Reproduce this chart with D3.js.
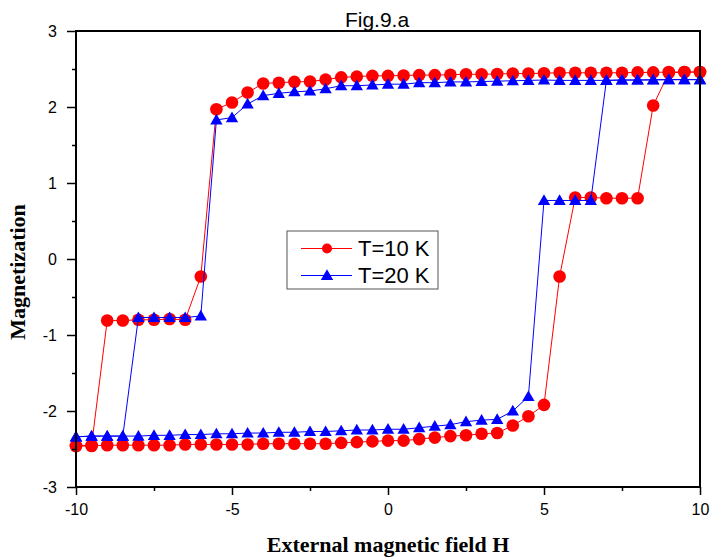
<!DOCTYPE html>
<html>
<head>
<meta charset="utf-8">
<script src="https://cdn.jsdelivr.net/npm/d3@7"></script>
<style>
  body { margin: 0; background: #fff; }
  text { font-family: "Liberation Sans", Arial, sans-serif; }
</style>
</head>
<body>
<div id="chart"></div>
<script>
const width = 713;
const height = 560;

// field values, branch going down then branch going up
const hDown = [10, 9.5, 9, 8.5, 8, 7.5, 7, 6.5, 6, 5.5, 5, 4.5, 4, 3.5, 3, 2.5, 2, 1.5, 1, 0.5, 0,
  -0.5, -1, -1.5, -2, -2.5, -3, -3.5, -4, -4.5, -5, -5.5, -6, -6.5, -7, -7.5, -8, -8.5, -9, -9.5, -10];
const hUp = [-10, -9.5, -9, -8.5, -8, -7.5, -7, -6.5, -6, -5.5, -5, -4.5, -4, -3.5, -3, -2.5, -2, -1.5, -1, -0.5, 0,
  0.5, 1, 1.5, 2, 2.5, 3, 3.5, 4, 4.5, 5, 5.5, 6, 6.5, 7, 7.5, 8, 8.5, 9, 9.5, 10];

// T = 10 K
const m10Down = [2.46, 2.46, 2.46, 2.455, 2.455, 2.45, 2.45, 2.45, 2.45, 2.45, 2.445, 2.44, 2.44, 2.435, 2.43, 2.43, 2.425, 2.42, 2.42, 2.415, 2.41,
  2.41, 2.40, 2.39, 2.36, 2.335, 2.33, 2.32, 2.31, 2.19, 2.06, 1.97, -0.23, -0.80, -0.79, -0.80, -0.80, -0.81, -0.81, -2.45, -2.46];
const m10Up = [-2.46, -2.46, -2.45, -2.45, -2.45, -2.45, -2.45, -2.44, -2.44, -2.44, -2.44, -2.44, -2.43, -2.43, -2.43, -2.43, -2.43, -2.42, -2.41, -2.40, -2.39,
  -2.39, -2.37, -2.35, -2.33, -2.32, -2.30, -2.29, -2.19, -2.07, -1.92, -0.23, 0.81, 0.81, 0.80, 0.80, 0.80, 2.02, 2.45, 2.46, 2.46];

// T = 20 K
const m20Down = [2.36, 2.36, 2.36, 2.36, 2.355, 2.355, 2.35, 2.35, 2.35, 2.35, 2.355, 2.35, 2.345, 2.34, 2.335, 2.33, 2.33, 2.32, 2.32, 2.30, 2.30,
  2.29, 2.28, 2.28, 2.24, 2.21, 2.20, 2.18, 2.15, 2.04, 1.86, 1.83, -0.75, -0.77, -0.77, -0.77, -0.77, -2.33, -2.33, -2.33, -2.34];
const m20Up = [-2.34, -2.33, -2.33, -2.33, -2.33, -2.32, -2.32, -2.31, -2.31, -2.30, -2.30, -2.29, -2.29, -2.28, -2.28, -2.27, -2.27, -2.26, -2.25, -2.25, -2.24,
  -2.24, -2.22, -2.20, -2.18, -2.14, -2.12, -2.11, -2.00, -1.81, 0.77, 0.77, 0.77, 0.77, 2.35, 2.355, 2.355, 2.355, 2.36, 2.36, 2.36];

const xTicks = [-10, -5, 0, 5, 10];
const yTicks = [-3, -2, -1, 0, 1, 2, 3];
const seriesNames = ["T=10 K", "T=20 K"];

const margin = { top: 31, right: 13, bottom: 73, left: 76 };

const svg = d3.select("#chart")
  .append("svg")
  .attr("width", width)
  .attr("height", height);

const x = d3.scaleLinear().domain([-10, 10]).range([margin.left, width - margin.right]);
const y = d3.scaleLinear().domain([-3, 3]).range([height - margin.bottom, margin.top]);

// build point lists for each series
const toPoints = (hs, ms) => hs.map((h, i) => ({ h: h, m: ms[i] }));
const series = [
  { name: seriesNames[0], color: "#ff0000", shape: "circle", pts: toPoints(hDown, m10Down).concat(toPoints(hUp, m10Up)) },
  { name: seriesNames[1], color: "#0000ff", shape: "triangle", pts: toPoints(hDown, m20Down).concat(toPoints(hUp, m20Up)) }
];

const line = d3.line().x(d => x(d.h)).y(d => y(d.m));
const circleSym = d3.symbol().type(d3.symbolCircle).size(Math.PI * 6.3 * 6.3);
const triSym = d3.symbol().type(d3.symbolTriangle).size(66);

series.forEach(s => {
  svg.append("path")
    .datum(s.pts)
    .attr("fill", "none")
    .attr("stroke", s.color)
    .attr("stroke-width", 1)
    .attr("d", line);

  svg.append("g")
    .selectAll("path")
    .data(s.pts)
    .join("path")
    .attr("transform", d => `translate(${x(d.h)},${y(d.m) + (s.shape === "triangle" ? 1 : 0)})`)
    .attr("d", s.shape === "circle" ? circleSym : triSym)
    .attr("fill", s.color);
});

// axes: major + minor ticks, outward
const xAxis = d3.axisBottom(x).tickValues(xTicks).tickSize(8).tickPadding(9).tickFormat(d3.format("d"));
const xMinor = d3.axisBottom(x).tickValues([-7.5, -2.5, 2.5, 7.5]).tickSize(4).tickFormat("");
const yAxis = d3.axisLeft(y).tickValues(yTicks).tickSize(9).tickPadding(10).tickFormat(d3.format("d"));
const yMinor = d3.axisLeft(y).tickValues([-2.5, -1.5, -0.5, 0.5, 1.5, 2.5]).tickSize(4).tickFormat("");

const gx = svg.append("g").attr("transform", `translate(0,${height - margin.bottom})`).call(xAxis);
svg.append("g").attr("transform", `translate(0,${height - margin.bottom})`).call(xMinor);
const gy = svg.append("g").attr("transform", `translate(${margin.left},0)`).call(yAxis);
svg.append("g").attr("transform", `translate(${margin.left},0)`).call(yMinor);

svg.selectAll(".domain").remove();
svg.selectAll(".tick line").attr("stroke", "#000").attr("stroke-width", 1.5);
[gx, gy].forEach(g => g.selectAll(".tick text")
  .attr("font-size", 16).attr("fill", "#000")
  .style("font-family", "'Liberation Sans', Arial, sans-serif")
  .text(d => d < 0 ? "-" + Math.abs(d) : d));

// frame
svg.append("rect")
  .attr("x", margin.left)
  .attr("y", margin.top)
  .attr("width", width - margin.left - margin.right)
  .attr("height", height - margin.top - margin.bottom)
  .attr("fill", "none")
  .attr("stroke", "#000")
  .attr("stroke-width", 2);

// title + axis labels
svg.append("text")
  .attr("x", 377).attr("y", 27)
  .attr("text-anchor", "middle")
  .attr("font-size", 21)
  .text("Fig.9.a");

svg.append("text")
  .attr("x", 388).attr("y", 552)
  .attr("text-anchor", "middle")
  .attr("font-size", 22)
  .attr("font-weight", "bold")
  .style("font-family", "'Liberation Serif', 'Times New Roman', serif")
  .text("External magnetic field H");

svg.append("text")
  .attr("transform", "translate(25,272) rotate(-90)")
  .attr("text-anchor", "middle")
  .attr("font-size", 22)
  .attr("font-weight", "bold")
  .style("font-family", "'Liberation Serif', 'Times New Roman', serif")
  .text("Magnetization");

// legend
const legend = svg.append("g").attr("transform", "translate(287,231)");
legend.append("rect")
  .attr("width", 151).attr("height", 58)
  .attr("fill", "#fff").attr("stroke", "#555").attr("stroke-width", 1);

series.forEach((s, i) => {
  const ly = 17.5 + i * 27;
  const row = legend.append("g").attr("transform", `translate(0,${ly})`);
  row.append("line")
    .attr("x1", 14).attr("x2", 65)
    .attr("stroke", s.color).attr("stroke-width", 1);
  row.append("path")
    .attr("transform", `translate(40,${s.shape === "triangle" ? 1 : 0})`)
    .attr("d", s.shape === "circle" ? d3.symbol().type(d3.symbolCircle).size(Math.PI * 5 * 5) : triSym)
    .attr("fill", s.color);
  row.append("text")
    .attr("x", 71).attr("y", 7.5)
    .attr("font-size", 22)
    .text(s.name);
});
</script>
</body>
</html>
